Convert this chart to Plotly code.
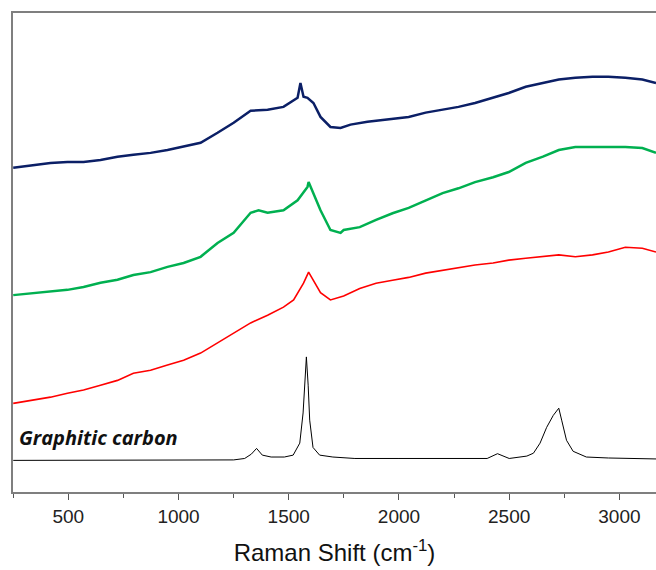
import plotly.graph_objects as go

# Raman shift (cm^-1) and intensities (a.u., offset-stacked)
navy_x = [250, 341, 419, 496, 569, 646, 723, 795, 873, 950, 1023, 1100, 1177, 1250, 1327, 1404, 1476,
          1540, 1553, 1567, 1585, 1612, 1644, 1689, 1735, 1780, 1857, 1930, 2003, 2044, 2121, 2198,
          2270, 2345, 2427, 2498, 2575, 2653, 2725, 2800, 2878, 2950, 3027, 3104, 3166]
navy_y = [67.7, 68.3, 68.7, 68.9, 68.9, 69.3, 70.0, 70.4, 70.8, 71.4, 72.1, 72.9, 75.0, 77.1, 79.6, 79.8, 80.4,
          82.3, 85.4, 82.5, 82.3, 81.2, 78.3, 76.2, 76.0, 76.7, 77.3, 77.7, 78.1, 78.3, 79.2, 79.8,
          80.4, 81.2, 82.3, 83.3, 84.6, 85.4, 86.1, 86.5, 86.7, 86.7, 86.5, 86.1, 85.4]

green_x = [250, 341, 419, 496, 569, 646, 723, 795, 873, 950, 1023, 1100, 1177, 1250, 1327, 1363, 1404,
           1476, 1540, 1585, 1590, 1612, 1644, 1689, 1735, 1749, 1822, 1896, 1971, 2044, 2121, 2198,
           2270, 2345, 2427, 2498, 2575, 2653, 2725, 2800, 2878, 2950, 3027, 3104, 3166]
green_y = [41.1, 41.5, 41.8, 42.2, 42.8, 43.7, 44.3, 45.3, 45.9, 47.0, 47.8, 49.1, 52.0, 54.1, 58.3, 58.8, 58.3,
           58.8, 60.9, 63.7, 64.7, 62.4, 58.8, 54.7, 54.1, 54.7, 55.3, 56.8, 58.2, 59.3, 60.9, 62.4,
           63.4, 64.7, 65.7, 66.8, 68.7, 70.0, 71.4, 72.0, 72.0, 72.0, 72.0, 71.8, 70.8]

red_x = [250, 341, 419, 496, 569, 646, 723, 795, 873, 950, 1023, 1100, 1177, 1250, 1327, 1404, 1476,
         1522, 1567, 1590, 1644, 1689, 1749, 1822, 1896, 1971, 2044, 2121, 2198, 2270, 2345, 2427,
         2498, 2575, 2653, 2725, 2800, 2878, 2950, 3027, 3104, 3166]
red_y = [18.5, 19.2, 19.8, 20.6, 21.3, 22.3, 23.3, 24.8, 25.4, 26.5, 27.5, 29.0, 31.1, 33.2, 35.3, 36.9, 38.6,
         40.1, 43.6, 45.9, 41.6, 40.1, 40.9, 42.5, 43.6, 44.2, 44.8, 45.7, 46.3, 46.9, 47.4, 47.8,
         48.4, 48.8, 49.1, 49.5, 49.1, 49.5, 50.1, 51.1, 50.9, 50.1]

black_x = [250, 600, 1000, 1250, 1300, 1330, 1354, 1380, 1420, 1480, 1520, 1550, 1565, 1572, 1580, 1588,
           1595, 1610, 1640, 1700, 1800, 2000, 2200, 2400, 2447, 2500, 2580, 2610, 2640, 2670, 2700,
           2725, 2738, 2760, 2790, 2850, 2950, 3050, 3166]
black_y = [6.6, 6.6, 6.6, 6.7, 7.0, 7.9, 9.1, 7.7, 7.3, 7.3, 7.7, 10.2, 16.5, 22.3, 28.2, 22.3,
           15.0, 9.3, 7.7, 7.3, 7.0, 7.0, 7.0, 7.0, 8.0, 7.0, 7.5, 8.1, 10.2, 13.5, 16.0,
           17.5, 15.0, 10.8, 8.5, 7.3, 7.1, 7.0, 6.9]

x_ticks = [500, 1000, 1500, 2000, 2500, 3000]
label_text = "Graphitic carbon"

fig = go.Figure()
fig.add_trace(go.Scatter(x=navy_x, y=navy_y, mode="lines", line=dict(color="#0b1f66", width=2.5)))
fig.add_trace(go.Scatter(x=green_x, y=green_y, mode="lines", line=dict(color="#00b050", width=2.5)))
fig.add_trace(go.Scatter(x=red_x, y=red_y, mode="lines", line=dict(color="#ff0000", width=1.6)))
fig.add_trace(go.Scatter(x=black_x, y=black_y, mode="lines", line=dict(color="#000000", width=1)))

fig.add_annotation(x=0.006, y=11.3, xref="paper", yref="y", text="<b><i>" + label_text + "</i></b>",
                   showarrow=False, xanchor="left", yanchor="middle",
                   font=dict(family="Open Sans", size=20, color="#111111"))

fig.update_layout(
    width=656, height=570,
    margin=dict(l=13, r=0, t=13, b=78),
    paper_bgcolor="white", plot_bgcolor="white",
    showlegend=False,
    font=dict(family="Liberation Sans, Arial", color="#222222"),
    xaxis=dict(
        range=[249, 3166], showgrid=False, zeroline=False,
        showline=True, mirror=True, linecolor="#7f7f7f", linewidth=1.5,
        tickmode="array", tickvals=x_ticks, ticktext=[str(v) for v in x_ticks],
        ticks="outside", ticklen=6, tickwidth=1.2, tickcolor="#555555",
        tickfont=dict(size=19, color="#222222"),
        minor=dict(dtick=250, tick0=0, ticks="outside", ticklen=4, tickcolor="#555555", tickwidth=1.2),
        title=dict(text="Raman Shift (cm<sup>-1</sup>)", font=dict(size=24, color="#111111"), standoff=19),
    ),
    yaxis=dict(
        range=[0, 100], showgrid=False, zeroline=False,
        showline=True, mirror=False, linecolor="#7f7f7f", linewidth=1.5,
        showticklabels=False, ticks="",
    ),
)

fig.write_html("out.html")
